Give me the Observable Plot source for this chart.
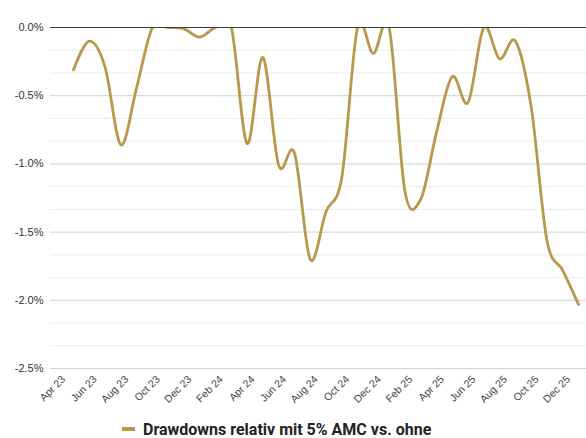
<!DOCTYPE html>
<html>
<head>
<meta charset="utf-8">
<script src="https://cdn.jsdelivr.net/npm/d3@7"></script>
<script src="https://cdn.jsdelivr.net/npm/@observablehq/plot@0.6"></script>
<style>
  html, body { margin: 0; padding: 0; background: #fff; }
  #chart svg { display: block; }
  .legend { height: 28px; padding-top: 5px; display: flex; align-items: center; padding-left: 122px; font-family: Roboto, sans-serif; font-weight: 700; font-size: 16px; color: #222; }
  .legend .sw { width: 13px; height: 4px; background: #B8984A; margin-right: 8px; }
</style>
</head>
<body>
<div id="chart"></div>
<div class="legend"><span class="sw"></span><span>Drawdowns relativ mit 5% AMC vs. ohne</span></div>
<script>
const months = ["Apr 23","May 23","Jun 23","Jul 23","Aug 23","Sep 23","Oct 23","Nov 23","Dec 23",
  "Jan 24","Feb 24","Mar 24","Apr 24","May 24","Jun 24","Jul 24","Aug 24","Sep 24","Oct 24","Nov 24","Dec 24",
  "Jan 25","Feb 25","Mar 25","Apr 25","May 25","Jun 25","Jul 25","Aug 25","Sep 25","Oct 25","Nov 25","Dec 25"];
const drawdown = [-0.31,-0.10,-0.29,-0.86,-0.44,0.00,0.00,-0.01,-0.07,
  0.00,0.00,-0.85,-0.22,-1.01,-0.92,-1.70,-1.35,-1.10,0.00,-0.19,0.00,
  -1.20,-1.26,-0.77,-0.36,-0.55,0.00,-0.23,-0.10,-0.58,-1.56,-1.78,-2.03];
const xTickLabels = ["Apr 23","Jun 23","Aug 23","Oct 23","Dec 23","Feb 24","Apr 24","Jun 24","Aug 24",
  "Oct 24","Dec 24","Feb 25","Apr 25","Jun 25","Aug 25","Oct 25","Dec 25"];
const yTicks = [0, -0.5, -1.0, -1.5, -2.0, -2.5];

const data = months.map((m, i) => ({i, m, v: drawdown[i]}));
const xTickIdx = xTickLabels.map(l => months.indexOf(l));
const minor = d3.range(0, 16).map(k => -k * 0.5 / 3).filter((d, k) => k % 3 !== 0);

const chart = Plot.plot({
  width: 586,
  height: 410,
  marginLeft: 50,
  marginRight: 0,
  marginTop: 27,
  marginBottom: 42,
  x: {domain: [-1.458, 32.507]},
  y: {domain: [-2.5, 0]},
  marks: [
    Plot.ruleY(minor, {stroke: "#ececec", strokeWidth: 1}),
    Plot.ruleY(yTicks.filter(d => d !== 0), {stroke: "#d2d2d2", strokeWidth: 1}),
    Plot.axisY({ticks: yTicks, tickSize: 0, tickPadding: 7, tickFormat: d => d.toFixed(1) + "%",
      fontSize: 11, fontFamily: "Liberation Sans, sans-serif", fill: "#333", label: null}),
    Plot.axisX({ticks: xTickIdx, tickSize: 0, tickPadding: 5, tickRotate: -45, dx: -10, dy: 4,
      tickFormat: d => months[d], fontSize: 10.5, fontFamily: "Liberation Sans, sans-serif", fill: "#444", label: null}),
    Plot.line(data, {x: "i", y: "v", stroke: "#B8984A", strokeWidth: 2.8, curve: "cardinal", tension: 0, clip: true}),
    Plot.ruleY([0], {stroke: "#3a3a3a", strokeWidth: 1})
  ]
});
document.getElementById("chart").appendChild(chart);
</script>
</body>
</html>
